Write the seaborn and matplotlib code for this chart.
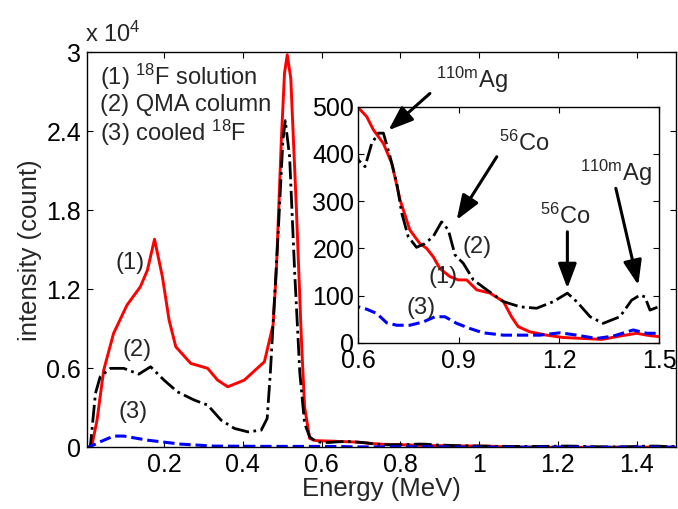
import numpy as np
import pandas as pd
import seaborn as sns
import matplotlib
matplotlib.use("Agg")
import matplotlib.pyplot as plt

# ---- spectra: energy (MeV) vs counts ----
red_x = [0.0, 0.016, 0.03, 0.047, 0.072, 0.106, 0.14, 0.158, 0.176, 0.196, 0.213,
         0.23, 0.268, 0.311, 0.336, 0.362, 0.404, 0.455, 0.477, 0.485, 0.498, 0.506,
         0.513, 0.522, 0.536, 0.549, 0.557, 0.57, 0.585,
         0.6, 0.625, 0.645, 0.675, 0.70, 0.725, 0.754, 0.784, 0.804, 0.824, 0.844,
         0.874, 0.899, 0.924, 0.954, 0.994, 1.034, 1.058, 1.078, 1.113, 1.163,
         1.213, 1.273, 1.328, 1.382, 1.432, 1.462, 1.497]
red_y = [0, 0, 2070, 5870, 8650, 10800, 12190, 13460, 15800, 12950, 9660,
         7640, 6375, 6000, 5110, 4600, 5110, 6500, 9300, 13200, 23320, 28390,
         29800, 28000, 18260, 8140, 3080, 680, 520,
         498, 479, 451, 422, 380, 302, 239, 210, 200, 182, 157,
         140, 133, 133, 112, 105, 87, 55, 34, 23, 16,
         11, 9, 7, 14, 20, 16, 13]

black_x = [0.0, 0.013, 0.026, 0.038, 0.064, 0.098, 0.136, 0.166, 0.2, 0.234, 0.277,
           0.311, 0.345, 0.379, 0.413, 0.447, 0.462, 0.47, 0.489, 0.502, 0.508,
           0.519, 0.532, 0.545, 0.557, 0.57, 0.585,
           0.6, 0.62, 0.64, 0.66, 0.675, 0.695, 0.715, 0.73, 0.749, 0.774, 0.799,
           0.824, 0.849, 0.869, 0.889, 0.914, 0.944, 0.984, 1.034, 1.084, 1.133,
           1.183, 1.225, 1.253, 1.293, 1.332, 1.382, 1.417, 1.442, 1.457, 1.472, 1.497]
black_y = [0, 50, 4100, 5360, 6000, 6000, 5560, 6120, 5110, 4220, 3590,
           3210, 2070, 1440, 1180, 1310, 2200, 5620, 15730, 23320, 24800,
           22060, 13200, 5620, 1820, 800, 450,
           387, 373, 422, 444, 444, 394, 338, 274, 225, 202, 210,
           225, 256, 239, 186, 168, 133, 112, 87, 76, 73,
           87, 105, 87, 55, 41, 55, 90, 101, 97, 69, 76]

blue_x = [0.0, 0.008, 0.038, 0.072, 0.098, 0.158, 0.242, 0.327, 0.45, 0.55,
          0.6, 0.625, 0.655, 0.685, 0.715, 0.754, 0.794, 0.829, 0.859, 0.894,
          0.934, 0.973, 1.034, 1.093, 1.143, 1.203, 1.253, 1.312, 1.362, 1.422,
          1.462, 1.497]
blue_y = [0, 0, 425, 860, 860, 550, 250, 100, 80, 75,
          76, 71, 62, 42, 37, 37, 44, 55, 55, 41,
          30, 21, 16, 16, 16, 21, 16, 9, 14, 27,
          20, 20]

main_xticks = [0.2, 0.4, 0.6, 0.8, 1.0, 1.2, 1.4]
main_xticklabels = ["0.2", "0.4", "0.6", "0.8", "1", "1.2", "1.4"]
main_yticks = [0, 6000, 12000, 18000, 24000, 30000]
main_yticklabels = ["0", "0.6", "1.2", "1.8", "2.4", "3"]
inset_xticks = [0.6, 0.9, 1.2, 1.5]
inset_xticklabels = ["0.6", "0.9", "1.2", "1.5"]
inset_yticks = [0, 100, 200, 300, 400, 500]

legend_lines = [r"(1) $^{18}$F solution", "(2) QMA column", r"(3) cooled $^{18}$F"]

sns.set_theme(style="ticks")
plt.rcParams["font.family"] = ["Liberation Sans", "DejaVu Sans"]
plt.rcParams["mathtext.fontset"] = "custom"
plt.rcParams["mathtext.rm"] = "Liberation Sans"
plt.rcParams["mathtext.default"] = "regular"
plt.rcParams["axes.edgecolor"] = "black"
plt.rcParams["axes.linewidth"] = 1.0

FS_TICK = 18
FS_LABEL = 18.5
FS_TEXT = 17

red = pd.DataFrame({"E": red_x, "c": red_y})
black = pd.DataFrame({"E": black_x, "c": black_y})
blue = pd.DataFrame({"E": blue_x, "c": blue_y})


def draw_series(ax):
    sns.lineplot(data=red, x="E", y="c", ax=ax, color="#ff0000", lw=2.1,
                 estimator=None, sort=False)
    sns.lineplot(data=black, x="E", y="c", ax=ax, color="black", lw=2.0,
                 linestyle="-.", estimator=None, sort=False)
    sns.lineplot(data=blue, x="E", y="c", ax=ax, color="#0000ff", lw=2.2,
                 linestyle="--", estimator=None, sort=False)


def style_ax(ax):
    for s in ax.spines.values():
        s.set_visible(True)
        s.set_color("black")
        s.set_linewidth(1.0)
    ax.tick_params(direction="in", top=True, right=True, length=4, width=0.8,
                   labelsize=FS_TICK, colors="black", pad=4)
    ax.set_facecolor("white")


fig = plt.figure(figsize=(6.78, 5.09), dpi=100)
ax = fig.add_axes([0.128, 0.121, 0.869, 0.7766])
draw_series(ax)
style_ax(ax)
ax.set_xlim(0.004, 1.5)
ax.set_ylim(0, 30000)
ax.set_xticks(main_xticks)
ax.set_xticklabels(main_xticklabels)
ax.set_yticks(main_yticks)
ax.set_yticklabels(main_yticklabels)
ax.set_xlabel("Energy (MeV)", fontsize=FS_LABEL, labelpad=0)
ax.set_ylabel("intensity (count)", fontsize=FS_LABEL, labelpad=3)
ax.annotate(r"x 10$^{4}$", xy=(0, 1), xycoords="axes fraction",
            xytext=(-1, 4), textcoords="offset points", ha="left", va="bottom",
            fontsize=FS_TEXT)

for i, t in enumerate(legend_lines):
    ax.text(0.022, 0.9375 - i * 0.0705, t, transform=ax.transAxes,
            fontsize=FS_TEXT, ha="left", va="center")

ax.text(0.115, 14000, "(1)", fontsize=FS_TEXT, ha="center", va="center")
ax.text(0.132, 7400, "(2)", fontsize=FS_TEXT, ha="center", va="center")
ax.text(0.122, 2700, "(3)", fontsize=FS_TEXT, ha="center", va="center")

# ---- zoomed inset of the high-energy tail ----
ins = fig.add_axes([0.5285, 0.3267, 0.444, 0.4637])
draw_series(ins)
style_ax(ins)
ins.set_xlim(0.6, 1.5)
ins.set_ylim(0, 500)
ins.set_xticks(inset_xticks)
ins.set_xticklabels(inset_xticklabels)
ins.set_yticks(inset_yticks)
ins.set_xlabel("")
ins.set_ylabel("")
ins.tick_params(axis="x", pad=4.5)
ins.tick_params(axis="y", pad=3)

ins.text(0.954, 203, "(2)", fontsize=FS_TEXT, ha="center", va="center")
ins.text(0.854, 140, "(1)", fontsize=FS_TEXT, ha="center", va="center")
ins.text(0.789, 73, "(3)", fontsize=FS_TEXT, ha="center", va="center")

arrow = dict(arrowstyle="-|>,head_length=0.75,head_width=0.28", color="black",
             lw=2.2, mutation_scale=20, shrinkA=0, shrinkB=0)

ins.text(0.939, 556, r"$^{110m}$Ag", fontsize=FS_TEXT, ha="center", va="center", clip_on=False)
ins.annotate("", xy=(0.690, 450), xytext=(0.814, 528), arrowprops=arrow,
             annotation_clip=False)

ins.text(1.095, 422, r"$^{56}$Co", fontsize=FS_TEXT, ha="center", va="center")
ins.annotate("", xy=(0.894, 260), xytext=(1.014, 394), arrowprops=arrow)

ins.text(1.220, 267, r"$^{56}$Co", fontsize=FS_TEXT, ha="center", va="center")
ins.annotate("", xy=(1.225, 115), xytext=(1.225, 235), arrowprops=arrow)

ins.text(1.369, 359, r"$^{110m}$Ag", fontsize=FS_TEXT, ha="center", va="center")
ins.annotate("", xy=(1.437, 122), xytext=(1.370, 327), arrowprops=arrow)

fig.savefig("out.png", dpi=100, facecolor="white")
